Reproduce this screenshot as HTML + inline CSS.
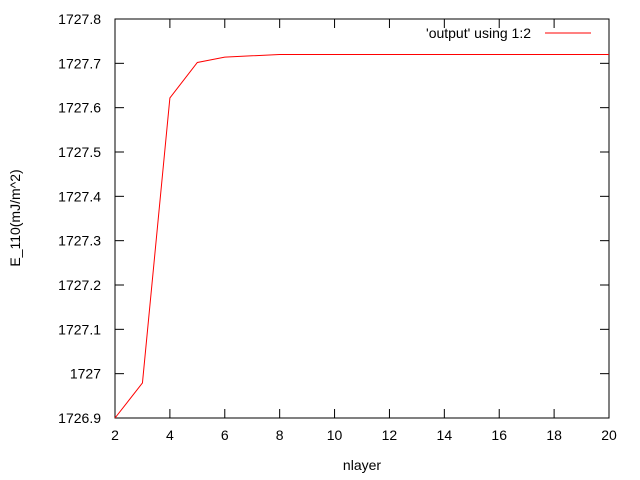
<!DOCTYPE html>
<html><head><meta charset="utf-8"><style>body{margin:0;background:#fff}svg{display:block;font-family:"Liberation Sans",sans-serif;font-size:14px}</style></head>
<body>
<svg width="640" height="480" id="c">
<rect x="115" y="19" width="494" height="399" fill="none" stroke="#000" stroke-width="1"/>
<text x="362" y="470" text-anchor="middle">nlayer</text>
<text transform="translate(20,218) rotate(-90)" text-anchor="middle">E_110(mJ/m^2)</text>
<g>
<text x="531" y="38" text-anchor="end">'output' using 1:2</text>
<line x1="545" y1="33" x2="591" y2="33" stroke="#f00"/>
</g>
</svg>
<script>
const xs=[2,3,4,5,6,7,8,9,10,11,12,13,14,15,16,17,18,19,20];
const ys=[1726.9,1726.979,1727.622,1727.702,1727.714,1727.717,1727.72,1727.72,1727.72,1727.72,1727.72,1727.72,1727.72,1727.72,1727.72,1727.72,1727.72,1727.72,1727.72];
const xTicks=[2,4,6,8,10,12,14,16,18,20];
const yTicks=[1726.9,1727,1727.1,1727.2,1727.3,1727.4,1727.5,1727.6,1727.7,1727.8];
const yLabels=["1726.9","1727","1727.1","1727.2","1727.3","1727.4","1727.5","1727.6","1727.7","1727.8"];
const L=115,R=609,T=19,B=418;
const sx=v=>L+(v-2)/18*(R-L), sy=v=>B-(v-1726.9)/0.9*(B-T);
const svg=document.getElementById('c'),NS='http://www.w3.org/2000/svg';
function mk(t,a){const e=document.createElementNS(NS,t);for(const k in a)e.setAttribute(k,a[k]);svg.appendChild(e);return e;}
xTicks.forEach(v=>{const x=sx(v);
const t1=mk('line',{x1:x,y1:B,x2:x,y2:B-9,stroke:'#000'});


const t2=mk('line',{x1:x,y1:T,x2:x,y2:T+9,stroke:'#000'});


const tx=mk('text',{x:x,y:B+22,'text-anchor':'middle'});tx.textContent=v;

});
yTicks.forEach((v,i)=>{const y=sy(v);
const t1=mk('line',{x1:L,y1:y,x2:L+9,y2:y,stroke:'#000'});


const t2=mk('line',{x1:R,y1:y,x2:R-9,y2:y,stroke:'#000'});


const tx=mk('text',{x:L-14,y:y+5,'text-anchor':'end'});tx.textContent=yLabels[i];

});
const p=mk('polyline',{points:xs.map((x,i)=>sx(x)+','+sy(ys[i])).join(' '),fill:'none',stroke:'#f00','stroke-width':1});


</script>
</body></html>
